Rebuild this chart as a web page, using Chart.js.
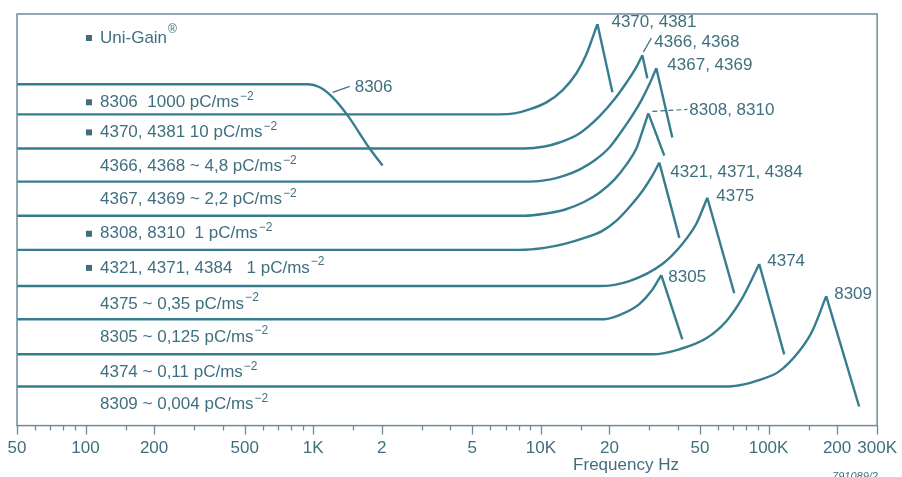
<!DOCTYPE html>
<html>
<head>
<meta charset="utf-8">
<title>Frequency response</title>
<script src="https://cdn.jsdelivr.net/npm/chart.js@4.4.1/dist/chart.umd.min.js"></script>
<style>
  html, body { margin: 0; padding: 0; background: #fff; }
  #wrap { width: 902px; height: 477px; }
</style>
</head>
<body>
<div id="wrap"><canvas id="chart"></canvas></div>
<script>
// ---- donnees ----
const tickValues = [50, 60, 70, 80, 90, 100, 150, 200, 300, 400, 500, 600, 700, 800, 900,
  1000, 1500, 2000, 3000, 4000, 5000, 6000, 7000, 8000, 9000,
  10000, 15000, 20000, 30000, 40000, 50000, 60000, 70000, 80000, 90000,
  100000, 150000, 200000, 300000];
const tickText = { 50: '50', 100: '100', 200: '200', 500: '500', 1000: '1K', 2000: '2', 5000: '5',
  10000: '10K', 20000: '20', 50000: '50', 100000: '100K', 200000: '200', 300000: '300K' };

const curveNames = ['8306', '4370, 4381', '4366, 4368', '4367, 4369', '8308, 8310',
  '4321, 4371, 4384', '4375', '8305', '4374', '8309'];
const rowTexts = ['8306  1000 pC/ms', '4370, 4381 10 pC/ms', '4366, 4368 ~ 4,8 pC/ms',
  '4367, 4369 ~ 2,2 pC/ms', '8308, 8310  1 pC/ms', '4321, 4371, 4384   1 pC/ms',
  '4375 ~ 0,35 pC/ms', '8305 ~ 0,125 pC/ms', '4374 ~ 0,11 pC/ms', '8309 ~ 0,004 pC/ms'];
const rowBullets = [true, true, false, false, true, true, false, false, false, false];
const baselines = [340, 310, 276, 243, 209, 175, 139, 106, 71, 39];

// [frequence Hz, niveau relatif]
const c8306 = [[50, 340], [950, 340], [1068, 337], [1218, 327], [1416, 309], [1770, 276], [2018, 259]];
const c4370 = [[50, 310], [6582, 310], [7661, 311], [8913, 315], [10580, 322], [12440, 334], [14330, 351], [15850, 370], [16840, 386], [17720, 400], [20620, 332]];
const c4366 = [[50, 276], [8472, 276], [10370, 278], [12066, 282], [14770, 291], [18075, 308], [21040, 325], [23990, 343], [26270, 357], [27910, 369], [29360, 346]];
const c4367 = [[50, 243], [8913, 243], [10907, 245], [12700, 249], [14770, 255], [17190, 264], [19999, 277], [22580, 293], [25230, 309], [27630, 324], [29960, 340], [32150, 356], [37790, 287]];
const c8308 = [[50, 209], [8472, 209], [10370, 211], [12700, 215], [15540, 223], [18075, 232], [21040, 245], [23740, 260], [26270, 276], [27910, 293], [29660, 311], [34850, 269]];
const c4321 = [[50, 175], [8055, 175], [10370, 177], [12700, 181], [15540, 187], [18630, 194], [21680, 205], [24980, 220], [28190, 235], [30880, 249], [33140, 262], [40570, 187]];
const c4375 = [[50, 139], [18080, 139], [24480, 144], [34160, 161], [41820, 181], [48180, 201], [53830, 227], [70700, 132]];
const c8305 = [[50, 106], [19000, 106], [22120, 110], [27080, 121], [30570, 134], [33810, 150], [41820, 86]];
const c4374 = [[50, 71], [31000, 71], [40560, 76], [53290, 87], [65230, 104], [76650, 127], [91040, 161], [117200, 71]];
const c8309 = [[50, 39], [67000, 39], [78000, 41], [90000, 45], [111400, 54], [136300, 74], [155500, 94], [179200, 129], [250000, 19]];
const curves = [c8306, c4370, c4366, c4367, c8308, c4321, c4375, c8305, c4374, c8309];

const FONT = '"Liberation Sans", Arial, sans-serif';
const INK = '#3f6f7f';
const LINE = '#367e8e';
const FRAME = '#6d8c97';

function lineDs(data) {
  return {
    data, borderColor: LINE, borderWidth: 2.4, pointRadius: 0,
    fill: false, tension: 0.4, cubicInterpolationMode: 'monotone'
  };
}

// montee lissee jusqu'au pic, puis descente droite
const datasets = [];
curves.forEach((pts, i) => {
  const data = pts.map(([x, y]) => ({ x, y }));
  if (i === 0) { datasets.push(lineDs(data)); return; }
  let pk = 0;
  data.forEach((d, j) => { if (d.y > data[pk].y) pk = j; });
  datasets.push(lineDs(data.slice(0, pk + 1)));
  datasets.push(lineDs(data.slice(pk)));
});

function textSup(ctx, main, sup, x, y, size, supSize, rise) {
  ctx.font = `${size}px ${FONT}`;
  ctx.fillText(main, x, y);
  const w = ctx.measureText(main).width;
  ctx.font = `${supSize}px ${FONT}`;
  ctx.fillText(sup, x + w + 1, y - rise);
}

// cadre, graduations et textes
const decorPlugin = {
  id: 'decor',
  afterDraw(chart) {
    const { ctx, chartArea: a } = chart;
    const xs = chart.scales.x, ys = chart.scales.y;
    ctx.save();
    ctx.strokeStyle = FRAME;
    ctx.lineWidth = 1.5;
    ctx.strokeRect(a.left, a.top, a.right - a.left, a.bottom - a.top);

    // graduations vers le bas
    ctx.beginPath();
    tickValues.forEach(v => {
      const px = Math.round(xs.getPixelForValue(v)) + 0.5;
      const len = tickText[v] ? 9 : 5;
      ctx.moveTo(px, a.bottom);
      ctx.lineTo(px, a.bottom + len);
    });
    ctx.lineWidth = 1.3;
    ctx.stroke();

    ctx.fillStyle = INK;
    ctx.textBaseline = 'middle';
    ctx.textAlign = 'left';
    const tx = a.left + 83;

    // Uni-Gain
    ctx.fillRect(a.left + 69, 35, 6, 6);
    textSup(ctx, 'Uni-Gain', '®', tx, 38, 17, 12, 8);

    // libelles de lignes, sous chaque ligne de base
    rowTexts.forEach((t, i) => {
      const y = ys.getPixelForValue(baselines[i]) + 18;
      if (rowBullets[i]) ctx.fillRect(a.left + 69, y - 3, 6, 6);
      textSup(ctx, t, '\u22122', tx, y, 17, 12, 6);
    });

    // reperes des pics
    const notes = [
      { i: 0, at: 3, dx: 22, dy: -10, lead: [0, -5, 17, -11] },
      { i: 1, dx: 14, dy: -2 },
      { i: 2, dx: 12, dy: -13, lead: [1, -3, 9, -17] },
      { i: 3, dx: 11, dy: -3 },
      { i: 4, dx: 41, dy: -3, lead: [4, -2, 39, -4], dash: true },
      { i: 5, dx: 11, dy: 10 },
      { i: 6, dx: 9, dy: -1 },
      { i: 7, dx: 7, dy: 2 },
      { i: 8, dx: 8, dy: -3 },
      { i: 9, dx: 8, dy: -2 }
    ];
    ctx.font = `17px ${FONT}`;
    notes.forEach(n => {
      const pts = curves[n.i];
      let k = n.at;
      if (k === undefined) {
        k = 0;
        pts.forEach((p, j) => { if (p[1] > pts[k][1]) k = j; });
      }
      const px = xs.getPixelForValue(pts[k][0]);
      const py = ys.getPixelForValue(pts[k][1]);
      if (n.lead) {
        ctx.beginPath();
        ctx.setLineDash(n.dash ? [5, 3] : []);
        ctx.strokeStyle = INK;
        ctx.lineWidth = 1.2;
        ctx.moveTo(px + n.lead[0], py + n.lead[1]);
        ctx.lineTo(px + n.lead[2], py + n.lead[3]);
        ctx.stroke();
        ctx.setLineDash([]);
      }
      ctx.fillText(curveNames[n.i], px + n.dx, py + n.dy);
    });

    // titre d'axe et reference
    ctx.font = `17px ${FONT}`;
    ctx.textAlign = 'center';
    ctx.fillText('Frequency Hz', 626, 465);
    ctx.font = `italic 11px ${FONT}`;
    ctx.textBaseline = 'top';
    ctx.fillText('791089/2', 855, 471);
    ctx.restore();
  }
};

new Chart(document.getElementById('chart'), {
  type: 'line',
  data: { datasets },
  options: {
    responsive: true, maintainAspectRatio: false, animation: false,
    layout: { padding: { left: 17, right: 24, top: 14, bottom: 13 } },
    plugins: { legend: { display: false }, tooltip: { enabled: false }, title: { display: false } },
    scales: {
      x: {
        type: 'logarithmic', min: 50, max: 300000,
        afterBuildTicks: s => { s.ticks = tickValues.map(v => ({ value: v })); },
        grid: { display: false, drawTicks: true, tickLength: 8 },
        border: { display: false },
        ticks: {
          autoSkip: false, maxRotation: 0, minRotation: 0, padding: 5,
          color: INK, font: { family: FONT, size: 17 },
          callback: v => tickText[v] || ''
        }
      },
      y: { type: 'linear', min: 0, max: 410, display: false }
    }
  },
  plugins: [decorPlugin]
});
</script>
</body>
</html>
